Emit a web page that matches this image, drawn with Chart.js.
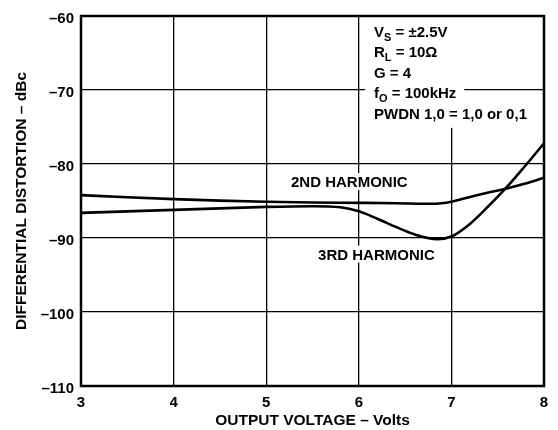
<!DOCTYPE html>
<html>
<head>
<meta charset="utf-8">
<script src="https://cdn.jsdelivr.net/npm/chart.js@4.4.1/dist/chart.umd.min.js"></script>
<style>
html,body{margin:0;padding:0;background:#fff;}
#wrap{width:558px;height:430px;position:relative;}
</style>
</head>
<body>
<div id="wrap"><canvas id="c" width="558" height="430"></canvas></div>
<script>
// ---- data ----
const voltage2  = [3, 3.5, 4, 4.5, 5, 5.5, 6, 6.4, 6.8, 7, 7.2, 7.4, 7.6, 7.8, 8];
const harmonic2 = [-84.2, -84.5, -84.75, -84.95, -85.1, -85.2, -85.25, -85.3, -85.38, -85.1, -84.45, -83.85, -83.3, -82.65, -81.85];
const voltage3  = [3, 3.5, 4, 4.5, 5, 5.5, 5.8, 6, 6.2, 6.4, 6.6, 6.85, 7, 7.2, 7.4, 7.6, 7.8, 8];
const harmonic3 = [-86.6, -86.4, -86.2, -86.0, -85.8, -85.7, -85.85, -86.4, -87.4, -88.5, -89.5, -90.15, -89.8, -88.1, -85.7, -83.1, -80.2, -77.2];
const xTicks = [3, 4, 5, 6, 7, 8];
const yTicks = [-110, -100, -90, -80, -70, -60];
const seriesNames = ["2ND HARMONIC", "3RD HARMONIC"];
const conditionLines = [
  [["V", ""], ["S", "sub"], [" = \u00B12.5V", ""]],
  [["R", ""], ["L", "sub"], [" = 10\u03A9", ""]],
  [["G = 4", ""]],
  [["f", ""], ["O", "sub"], [" = 100kHz", ""]],
  [["PWDN 1,0 = 1,0 or 0,1", ""]]
];
const xTitle = "OUTPUT VOLTAGE \u2013 Volts";
const yTitle = "DIFFERENTIAL DISTORTION \u2013 dBc";

const FONT = "'Liberation Sans', Arial, Helvetica, sans-serif";
const toPts = (xs, ys) => xs.map((v, i) => ({x: v, y: ys[i]}));

const notesPlugin = {
  id: 'notes',
  afterDatasetsDraw(chart, args, opts) {
    const {ctx, scales: {x, y}, chartArea} = chart;
    ctx.save();
    const mainFont = "bold 15px " + FONT;
    const subFont = "bold 11px " + FONT;
    // condition block
    const ax = x.getPixelForValue(opts.anchor.x);
    const ay = y.getPixelForValue(opts.anchor.y);
    const coverRight = x.getPixelForValue(opts.coverX) + 3;
    const widths = conditionLines.map(line => {
      let w = 0;
      line.forEach(([t, k]) => { ctx.font = k === 'sub' ? subFont : mainFont; w += ctx.measureText(t).width; });
      return w;
    });
    ctx.fillStyle = '#fff';
    conditionLines.forEach((line, i) => {
      const base = ay + i * opts.lineGap;
      const top = i === 0 ? chartArea.top : base - 15;
      const right = Math.max(ax + widths[i] + 8, coverRight);
      ctx.fillRect(ax - 9, top, right - (ax - 9), base + 9 - top);
    });
    ctx.fillStyle = '#000';
    ctx.textBaseline = 'alphabetic';
    ctx.textAlign = 'left';
    conditionLines.forEach((line, i) => {
      const base = ay + i * opts.lineGap;
      let cx = ax;
      line.forEach(([t, k]) => {
        ctx.font = k === 'sub' ? subFont : mainFont;
        ctx.fillText(t, cx, k === 'sub' ? base + 4 : base);
        cx += ctx.measureText(t).width;
      });
    });
    // curve labels
    opts.labels.forEach((lb, i) => {
      const px = x.getPixelForValue(lb.x), py = y.getPixelForValue(lb.y);
      ctx.font = mainFont;
      const w = ctx.measureText(seriesNames[i]).width;
      ctx.fillStyle = '#fff';
      ctx.fillRect(px - 3, py - 14, w + 6, 17);
      ctx.fillStyle = '#000';
      ctx.fillText(seriesNames[i], px, py);
    });
    ctx.restore();
  },
  afterDraw(chart) {
    const {ctx, chartArea: a} = chart;
    ctx.save();
    ctx.strokeStyle = '#000';
    ctx.lineWidth = 2.5;
    ctx.strokeRect(a.left, a.top, a.right - a.left, a.bottom - a.top);
    ctx.restore();
  }
};

const dash = v => (v < 0 ? "\u2013" + Math.abs(v) : String(v));

new Chart(document.getElementById('c'), {
  type: 'line',
  data: {
    datasets: [
      {label: seriesNames[0], data: toPts(voltage2, harmonic2)},
      {label: seriesNames[1], data: toPts(voltage3, harmonic3)}
    ]
  },
  options: {
    responsive: false,
    animation: false,
    devicePixelRatio: 1,
    layout: {padding: {top: 14, right: 14, left: 0, bottom: 0}},
    elements: {
      point: {radius: 0},
      line: {borderColor: '#000', borderWidth: 2.6, cubicInterpolationMode: 'monotone', fill: false}
    },
    plugins: {
      legend: {display: false},
      tooltip: {enabled: false},
      notes: {
        anchor: {x: 6.164, y: -62.82},
        coverX: 7,
        lineGap: 20.5,
        labels: [{x: 5.268, y: -83.12}, {x: 5.56, y: -92.93}]
      }
    },
    scales: {
      x: {
        type: 'linear', min: 3, max: 8,
        afterBuildTicks: s => { s.ticks = xTicks.map(v => ({value: v})); },
        afterFit: s => { s.height = 44; },
        ticks: {color: '#000', font: {family: FONT, size: 15, weight: 'bold'}, padding: 8, maxRotation: 0, callback: v => dash(v)},
        grid: {color: '#000', lineWidth: 1.3, drawTicks: false},
        border: {display: false},
        title: {display: true, text: xTitle, color: '#000', font: {family: FONT, size: 15.5, weight: 'bold'}, padding: {top: 0, bottom: 0}}
      },
      y: {
        type: 'linear', min: -110, max: -60,
        afterBuildTicks: s => { s.ticks = yTicks.map(v => ({value: v})); },
        afterFit: s => { s.width = 81; },
        ticks: {color: '#000', font: {family: FONT, size: 15, weight: 'bold'}, padding: 7, labelOffset: 3, callback: v => dash(v)},
        grid: {color: '#000', lineWidth: 1.3, drawTicks: false},
        border: {display: false},
        title: {display: true, text: yTitle, color: '#000', font: {family: FONT, size: 15.5, weight: 'bold'}, padding: {top: 12, bottom: 0}}
      }
    }
  },
  plugins: [notesPlugin]
});
</script>
</body>
</html>
